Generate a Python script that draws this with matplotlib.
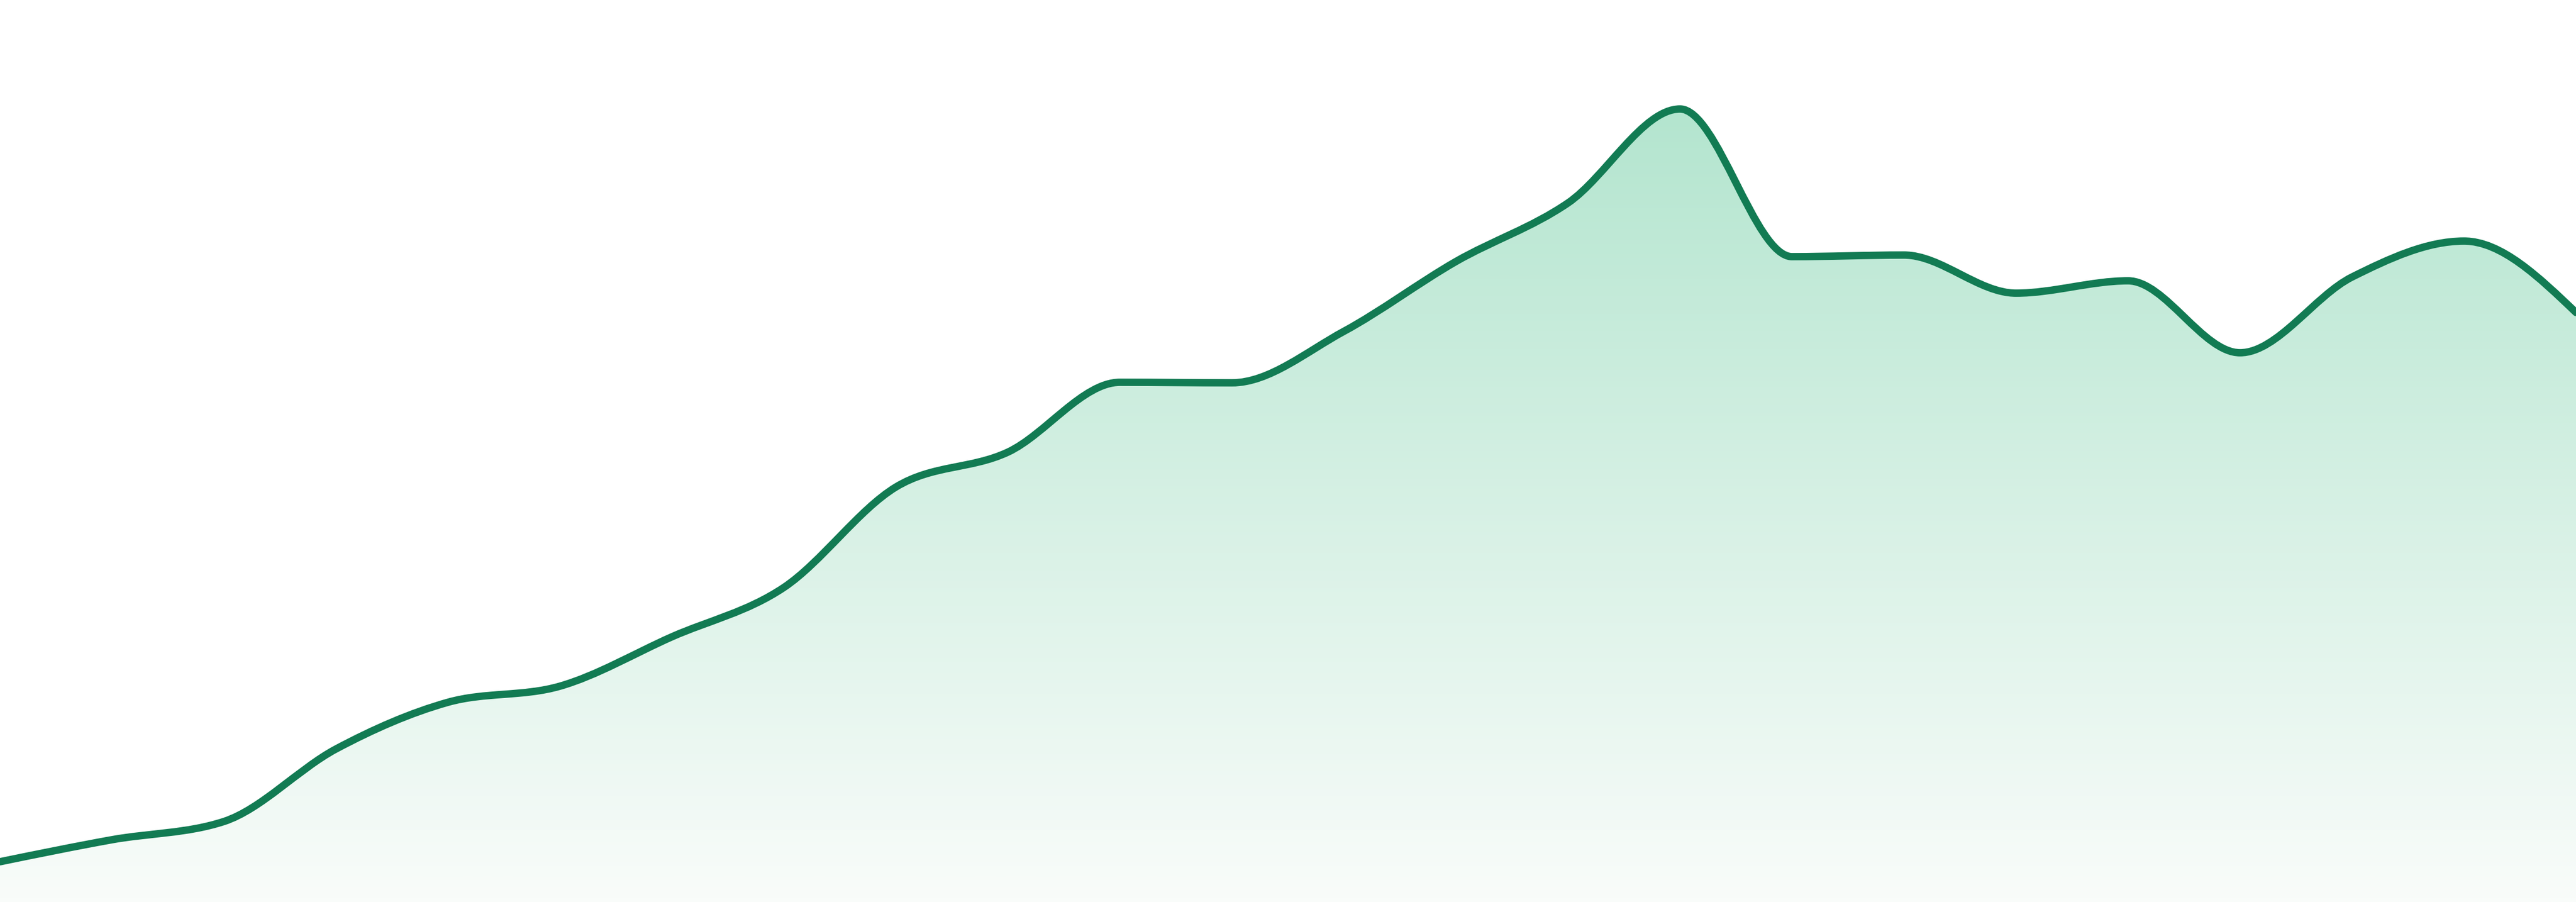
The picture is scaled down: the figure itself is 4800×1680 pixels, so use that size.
import numpy as np
import matplotlib
matplotlib.use('Agg')
import matplotlib.pyplot as plt
from matplotlib.path import Path
from matplotlib.patches import PathPatch
from matplotlib.colors import LinearSegmentedColormap

# values, one per step
values = [7.5, 11.6, 15.0, 28.5, 37.2, 40.2, 49.4, 58.6, 77.3, 83.8, 96.8, 96.7,
          106.3, 119.3, 130.2, 147.7, 120.2, 120.5, 113.4, 115.7, 102.3, 116.4,
          123.1, 109.8]
y_top = 168

line_color = '#127b53'
fill_top = '#aae2c9'
fill_bottom = '#f9fcfa'


def monotone_slopes(x, y):
    # same rule as d3 curveMonotoneX
    n = len(x)
    t = np.zeros(n)
    for i in range(1, n - 1):
        h0 = x[i] - x[i - 1]
        h1 = x[i + 1] - x[i]
        s0 = (y[i] - y[i - 1]) / h0
        s1 = (y[i + 1] - y[i]) / h1
        p = (s0 * h1 + s1 * h0) / (h0 + h1)
        t[i] = (np.sign(s0) + np.sign(s1)) * min(abs(s0), abs(s1), 0.5 * abs(p))
    h = x[1] - x[0]
    t[0] = (3 * (y[1] - y[0]) / h - t[1]) / 2
    h = x[-1] - x[-2]
    t[-1] = (3 * (y[-1] - y[-2]) / h - t[-2]) / 2
    return t


def curve_verts(x, y):
    t = monotone_slopes(x, y)
    verts = [(x[0], y[0])]
    codes = [Path.MOVETO]
    for i in range(len(x) - 1):
        dx = (x[i + 1] - x[i]) / 3
        verts += [(x[i] + dx, y[i] + t[i] * dx),
                  (x[i + 1] - dx, y[i + 1] - t[i + 1] * dx),
                  (x[i + 1], y[i + 1])]
        codes += [Path.CURVE4] * 3
    return verts, codes


x = np.arange(len(values), dtype=float)
y = np.array(values, dtype=float)

fig = plt.figure(figsize=(16, 5.6), dpi=300)
ax = fig.add_axes([0, 0, 1, 1])
ax.set_xlim(x[0], x[-1])
ax.set_ylim(0, y_top)
ax.axis('off')

verts, codes = curve_verts(x, y)

# area under the curve with a vertical fade
area_verts = verts + [(x[-1], 0), (x[0], 0), (x[0], y[0])]
area_codes = codes + [Path.LINETO, Path.LINETO, Path.CLOSEPOLY]
area = PathPatch(Path(area_verts, area_codes), facecolor='none', edgecolor='none')
ax.add_patch(area)

cmap = LinearSegmentedColormap.from_list('fade', [fill_top, fill_bottom])
grad = np.linspace(0, 1, 512).reshape(-1, 1)
img = ax.imshow(grad, cmap=cmap, aspect='auto', origin='upper',
                extent=[x[0], x[-1], 0, y_top], interpolation='bicubic')
img.set_clip_path(area)

line = PathPatch(Path(verts, codes), facecolor='none', edgecolor=line_color,
                 lw=3.3, capstyle='round', joinstyle='round')
ax.add_patch(line)

fig.savefig('out.png', dpi=300, facecolor='white')
